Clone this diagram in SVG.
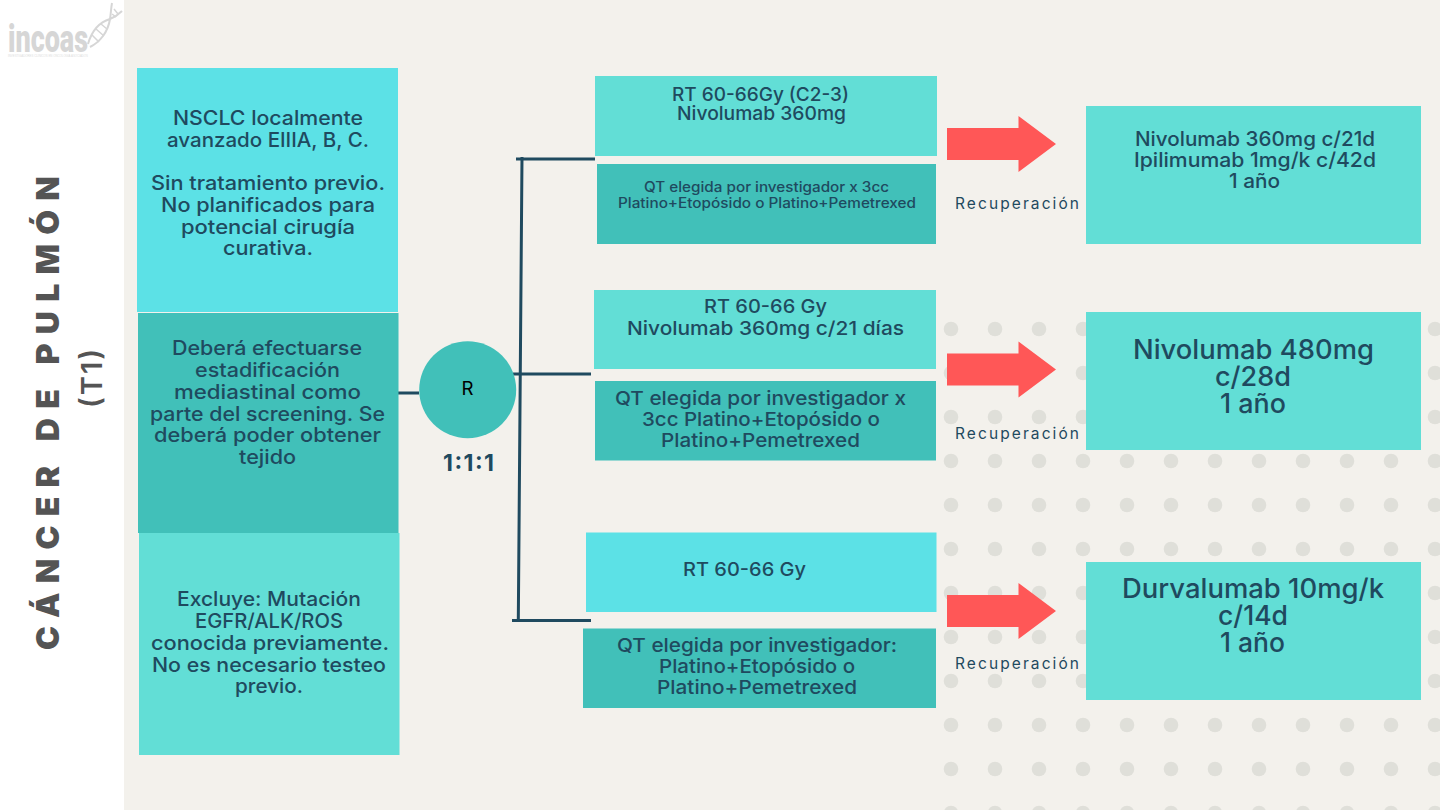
<svg xmlns="http://www.w3.org/2000/svg" width="1440" height="810" viewBox="0 0 1440 810">
<style>
text{font-family:"Inter","Noto Sans","Liberation Sans",sans-serif;fill:#1f4a5f;font-weight:450}
.s20{font-size:20px}.s19{font-size:19px}.s14{font-size:14px}.s27{font-size:27px}.s16{font-size:15.5px;font-weight:400}
.cyan{fill:#5ce1e6}.teal{fill:#41c0b9}.aqua{fill:#62ded6}.red{fill:#ff5757}
.conn{stroke:#1f4a5f;stroke-width:3;fill:none}
</style>
<defs>
<pattern id="dots" x="951" y="329" width="44" height="44" patternUnits="userSpaceOnUse"><circle cx="0" cy="0" r="7.3" fill="#dfdfd9"/><circle cx="44" cy="0" r="7.3" fill="#dfdfd9"/><circle cx="0" cy="44" r="7.3" fill="#dfdfd9"/><circle cx="44" cy="44" r="7.3" fill="#dfdfd9"/></pattern>
<polygon id="arrow" points="0,12 71.5,12 71.5,0 109,28 71.5,56 71.5,44 0,44"/>
</defs>
<rect width="1440" height="810" fill="#f3f1ec"/>
<rect x="943" y="321" width="497" height="489" fill="url(#dots)"/>
<rect width="124" height="810" fill="#ffffff"/>
<g id="logo">
<text x="8" y="52" textLength="80" lengthAdjust="spacingAndGlyphs" style="font-family:'Roboto','Liberation Sans',sans-serif;font-size:38px;font-weight:900;fill:#d6d6d6">incoas</text>
<text x="8" y="57" textLength="80" lengthAdjust="spacingAndGlyphs" style="font-family:'Liberation Sans',sans-serif;font-size:3px;font-weight:400;fill:#dddddd">INVESTIGADORES CLÍNICOS EN ONCOLOGÍA ASOCIADOS</text>
<path d="M88 44C92 30 100 22 110 19C115 17 119 14 122 11M90 47C100 42 108 32 110 19C111 13 111 8 112 3" fill="none" stroke="#d6d6d6" stroke-width="2"/>
<path d="M92 35L99 42M96 29L104 36M101 24L107 29M114 9L118 14M112 14L116 17" fill="none" stroke="#d6d6d6" stroke-width="1.500"/>
</g>
<g id="title">
<text transform="translate(59,650) rotate(-90)" textLength="474" lengthAdjust="spacing" style="font-size:32px;font-weight:900;fill:#545454">CÁNCER DE PULMÓN</text>
<text transform="translate(102,408) rotate(-90)" textLength="59" lengthAdjust="spacing" style="font-size:29px;font-weight:600;fill:#545454">(T1)</text>
</g>
<g id="connectors">
<path class="conn" d="M398 393H419M522 157L518.300 621M516 159H595M513 374H591M512 620.500H591"/>
</g>
<g id="left-1"><rect class="cyan" x="137" y="68" width="261" height="244"/>
<text class="s20" x="173" y="125" textLength="190" lengthAdjust="spacingAndGlyphs">NSCLC localmente</text>
<text class="s20" x="167" y="147" textLength="202" lengthAdjust="spacingAndGlyphs">avanzado EIIIA, B, C.</text>
<text class="s20" x="151" y="190" textLength="234" lengthAdjust="spacingAndGlyphs">Sin tratamiento previo.</text>
<text class="s20" x="161" y="212" textLength="214" lengthAdjust="spacingAndGlyphs">No planificados para</text>
<text class="s20" x="181" y="234" textLength="174" lengthAdjust="spacingAndGlyphs">potencial cirugía</text>
<text class="s20" x="223" y="255" textLength="90" lengthAdjust="spacingAndGlyphs">curativa.</text></g>
<g id="left-2"><rect class="teal" x="138" y="313" width="260.500" height="220"/>
<text class="s20" x="172" y="355" textLength="190" lengthAdjust="spacingAndGlyphs">Deberá efectuarse</text>
<text class="s20" x="195" y="377" textLength="145" lengthAdjust="spacingAndGlyphs">estadificación</text>
<text class="s20" x="174" y="399" textLength="187" lengthAdjust="spacingAndGlyphs">mediastinal como</text>
<text class="s20" x="150" y="421" textLength="235" lengthAdjust="spacingAndGlyphs">parte del screening. Se</text>
<text class="s20" x="154" y="442" textLength="227" lengthAdjust="spacingAndGlyphs">deberá poder obtener</text>
<text class="s20" x="239" y="464" textLength="57" lengthAdjust="spacingAndGlyphs">tejido</text></g>
<g id="left-3"><rect class="aqua" x="139" y="533" width="260.500" height="222"/>
<text class="s20" x="177" y="606" textLength="184" lengthAdjust="spacingAndGlyphs">Excluye: Mutación</text>
<text class="s20" x="195" y="628" textLength="148" lengthAdjust="spacingAndGlyphs">EGFR/ALK/ROS</text>
<text class="s20" x="151" y="650" textLength="238" lengthAdjust="spacingAndGlyphs">conocida previamente.</text>
<text class="s20" x="152" y="672" textLength="234" lengthAdjust="spacingAndGlyphs">No es necesario testeo</text>
<text class="s20" x="235" y="693" textLength="68" lengthAdjust="spacingAndGlyphs">previo.</text></g>
<g id="randomize"><circle class="teal" cx="467.700" cy="389.700" r="48.500"/>
<text x="461.500" y="395" textLength="12" lengthAdjust="spacingAndGlyphs" style="font-size:18px;font-weight:400;fill:#000">R</text>
<text x="443" y="471" textLength="51" lengthAdjust="spacing" style="font-size:23px;font-weight:700">1:1:1</text></g>
<g id="arm-1-rt"><rect class="aqua" x="595" y="76" width="342" height="80"/>
<text class="s19" x="672" y="101" textLength="177" lengthAdjust="spacingAndGlyphs">RT 60-66Gy (C2-3)</text>
<text class="s19" x="677" y="120" textLength="169" lengthAdjust="spacingAndGlyphs">Nivolumab 360mg</text></g>
<g id="arm-1-qt"><rect class="teal" x="597" y="164" width="339" height="80"/>
<text class="s14" x="644" y="192" textLength="245" lengthAdjust="spacingAndGlyphs">QT elegida por investigador x 3cc</text>
<text class="s14" x="618" y="208" textLength="298" lengthAdjust="spacingAndGlyphs">Platino+Etopósido o Platino+Pemetrexed</text></g>
<g id="arm-2-rt"><rect class="aqua" x="594" y="290" width="342" height="79"/>
<text class="s19" x="704" y="313" textLength="123" lengthAdjust="spacingAndGlyphs">RT 60-66 Gy</text>
<text class="s19" x="627" y="335" textLength="277" lengthAdjust="spacingAndGlyphs">Nivolumab 360mg c/21 días</text></g>
<g id="arm-2-qt"><rect class="teal" x="595" y="381" width="341" height="79.500"/>
<text class="s19" x="615" y="405" textLength="291" lengthAdjust="spacingAndGlyphs">QT elegida por investigador x</text>
<text class="s19" x="642" y="426" textLength="238" lengthAdjust="spacingAndGlyphs">3cc Platino+Etopósido o</text>
<text class="s19" x="661" y="447" textLength="199" lengthAdjust="spacingAndGlyphs">Platino+Pemetrexed</text></g>
<g id="arm-3-rt"><rect class="cyan" x="586" y="532.500" width="350.500" height="79.500"/>
<text class="s19" x="683" y="576" textLength="123" lengthAdjust="spacingAndGlyphs">RT 60-66 Gy</text></g>
<g id="arm-3-qt"><rect class="teal" x="583" y="628.500" width="353" height="79.500"/>
<text class="s19" x="617" y="652" textLength="280" lengthAdjust="spacingAndGlyphs">QT elegida por investigador:</text>
<text class="s19" x="659" y="673" textLength="196" lengthAdjust="spacingAndGlyphs">Platino+Etopósido o</text>
<text class="s19" x="657" y="694" textLength="200" lengthAdjust="spacingAndGlyphs">Platino+Pemetrexed</text></g>
<g id="arrows">
<use href="#arrow" class="red" x="947" y="116"/>
<use href="#arrow" class="red" x="947" y="341.500"/>
<use href="#arrow" class="red" x="947" y="583"/>
</g>
<g id="recovery-labels">
<text class="s16" x="955" y="209" textLength="124" lengthAdjust="spacing">Recuperación</text>
<text class="s16" x="955" y="439" textLength="124" lengthAdjust="spacing">Recuperación</text>
<text class="s16" x="955" y="669" textLength="124" lengthAdjust="spacing">Recuperación</text>
</g>
<g id="maint-1"><rect class="aqua" x="1086" y="106" width="335" height="138"/>
<text class="s20" x="1135" y="146" textLength="240" lengthAdjust="spacingAndGlyphs">Nivolumab 360mg c/21d</text>
<text class="s20" x="1134" y="167" textLength="242" lengthAdjust="spacingAndGlyphs">Ipilimumab 1mg/k c/42d</text>
<text class="s20" x="1229" y="188" textLength="51" lengthAdjust="spacingAndGlyphs">1 año</text></g>
<g id="maint-2"><rect class="aqua" x="1086" y="312" width="335" height="138"/>
<text class="s27" x="1133" y="359" textLength="241" lengthAdjust="spacingAndGlyphs">Nivolumab 480mg</text>
<text class="s27" x="1215" y="386" textLength="76" lengthAdjust="spacingAndGlyphs">c/28d</text>
<text class="s27" x="1220" y="413" textLength="66" lengthAdjust="spacingAndGlyphs">1 año</text></g>
<g id="maint-3"><rect class="aqua" x="1086" y="562" width="335" height="138"/>
<text class="s27" x="1122" y="598" textLength="262" lengthAdjust="spacingAndGlyphs">Durvalumab 10mg/k</text>
<text class="s27" x="1218" y="625" textLength="70" lengthAdjust="spacingAndGlyphs">c/14d</text>
<text class="s27" x="1220" y="652" textLength="65" lengthAdjust="spacingAndGlyphs">1 año</text></g>
</svg>
